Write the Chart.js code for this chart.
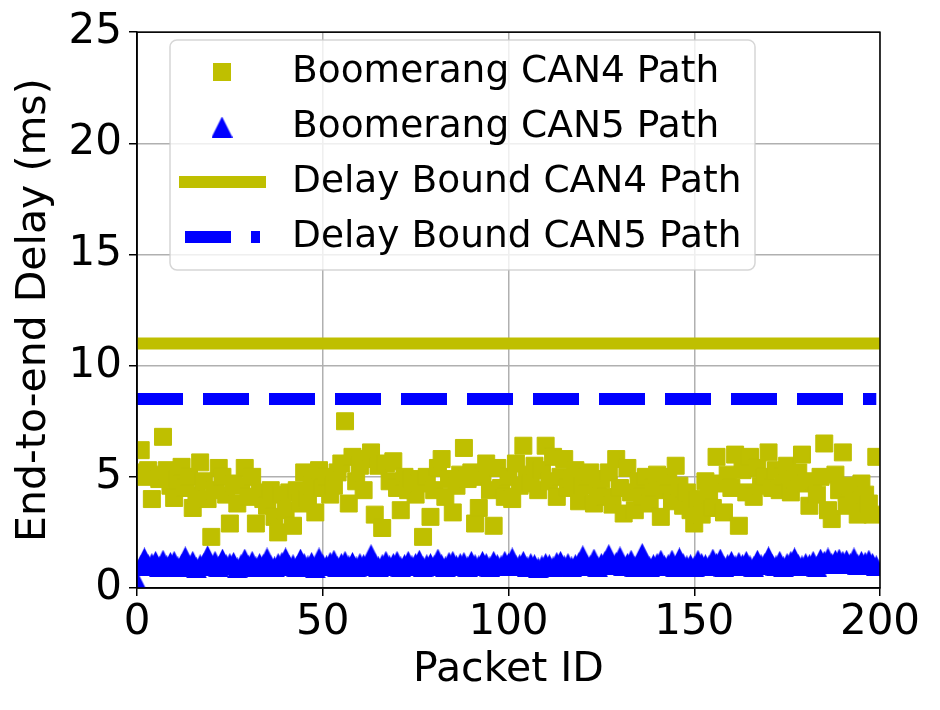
<!DOCTYPE html>
<html>
<head>
<meta charset="utf-8">
<script src="https://cdn.jsdelivr.net/npm/chart.js@4.4.0/dist/chart.umd.min.js"></script>
<style>
  html, body { margin: 0; padding: 0; background: #fff; }
  #wrap { width: 940px; height: 710px; }
</style>
</head>
<body>
<div id="wrap"><canvas id="myChart" width="940" height="710"></canvas></div>
<script>
// packet ids 0..199
let packetIds = Array.from({ length: 200 }, (_, i) => i);

// measured end-to-end delay (ms), CAN4 path
let can4Delay = [
  5.2, 6.2, 5.0, 5.3, 4.0, 5.1, 4.9, 6.8, 5.3, 4.6,
  4.05, 4.9, 5.45, 4.5, 5.0, 3.6, 4.2, 5.65, 4.8, 4.0,
  2.3, 4.4, 5.4, 5.0, 4.2, 2.9, 4.7, 3.8, 4.6, 5.4,
  4.1, 5.0, 2.9, 4.3, 4.0, 3.7, 4.4, 3.2, 2.5, 4.2,
  3.5, 4.3, 2.8, 4.4, 3.8, 5.2, 4.0, 4.6, 3.4, 5.3,
  4.5, 5.0, 4.2, 4.6, 5.2, 5.6, 7.5, 3.8, 5.9, 4.8,
  5.5, 4.4, 5.8, 6.1, 3.3, 5.5, 2.7, 5.6, 4.8, 5.7,
  4.5, 3.5, 5.0, 4.4, 4.9, 4.2, 4.7, 2.3, 5.0, 3.2,
  4.4, 5.4, 5.8, 4.1, 4.9, 3.4, 4.6, 5.1, 6.3, 4.9,
  5.2, 2.9, 3.6, 5.0, 5.6, 4.4, 2.8, 5.4, 4.5, 4.1,
  5.0, 4.0, 5.6, 4.6, 6.4, 5.1, 4.7, 5.5, 4.4, 5.3,
  6.4, 4.8, 5.9, 4.1, 5.0, 5.8, 4.5, 4.9, 5.3, 3.9,
  4.6, 5.0, 5.2, 3.8, 4.4, 4.9, 4.1, 5.2, 3.75, 5.8,
  4.5, 3.35, 5.4, 4.3, 3.5, 4.8, 4.1, 5.0, 3.8, 4.5,
  5.1, 3.2, 4.4, 5.0, 3.9, 5.5, 4.6, 3.7, 4.3, 3.5,
  2.9, 4.0, 3.3, 4.8, 4.2, 3.6, 5.9, 4.7, 3.4, 5.1,
  4.5, 6.0, 2.8, 5.3, 4.3, 5.9, 4.1, 5.4, 4.6, 5.0,
  6.1, 4.5, 5.3, 4.4, 5.0, 5.5, 4.3, 4.9, 5.2, 6.0,
  4.7, 3.7, 4.8, 4.2, 5.0, 6.5, 3.5, 3.1, 5.1, 4.4,
  6.1, 3.7, 4.6, 4.0, 3.3, 4.7, 4.2, 3.8, 3.3, 5.9
];

// measured end-to-end delay (ms), CAN5 path
let can5Delay = [
  0.3, 1.0, 1.35, 1.05, 1.1, 1.2, 0.95, 1.25, 1.0, 1.15,
  1.2, 0.95, 1.05, 1.4, 1.0, 1.2, 0.9, 1.05, 1.1, 1.45,
  1.0, 1.2, 0.95, 1.3, 1.05, 1.1, 1.15, 0.9, 1.05, 1.3,
  1.0, 1.2, 0.95, 1.1, 1.05, 1.35, 1.0, 0.95, 1.1, 1.15,
  1.35, 1.0, 1.05, 0.95, 1.3, 1.1, 1.0, 1.15, 0.9, 1.35,
  1.05, 1.0, 1.15, 1.25, 0.95, 1.1, 1.2, 1.0, 1.15, 0.95,
  1.1, 1.05, 1.0, 1.5, 1.1, 0.95, 1.05, 1.2, 1.0, 1.1,
  1.2, 0.95, 1.05, 1.2, 1.0, 1.1, 1.25, 0.95, 1.05, 1.1,
  1.0, 1.3, 1.05, 0.95, 1.15, 1.2, 1.0, 1.1, 1.15, 0.95,
  1.2, 1.05, 1.0, 1.2, 1.1, 0.95, 1.2, 1.05, 1.0, 1.2,
  1.1, 1.35, 1.0, 1.05, 1.2, 0.95, 1.1, 1.05, 0.9, 1.0,
  1.1, 1.05, 0.95, 1.15, 1.2, 1.0, 1.1, 0.95, 1.05, 1.15,
  1.45, 1.05, 1.0, 1.3, 0.95, 1.1, 1.2, 1.5, 1.05, 1.15,
  1.4, 1.0, 1.1, 1.25, 0.95, 1.05, 1.55, 1.1, 0.95, 1.05,
  1.1, 1.25, 1.0, 1.05, 1.25, 0.95, 1.35, 1.1, 1.0, 1.05,
  0.95, 1.25, 1.1, 1.05, 1.0, 1.3, 1.1, 1.3, 0.95, 1.05,
  1.2, 1.0, 1.15, 1.05, 1.2, 1.0, 0.95, 1.25, 1.05, 1.1,
  1.4, 1.05, 1.0, 1.2, 0.95, 1.1, 1.2, 1.35, 1.05, 1.0,
  1.1, 1.05, 1.2, 0.95, 1.3, 1.2, 1.35, 1.1, 1.25, 1.3,
  1.2, 1.25, 1.1, 1.35, 1.05, 1.2, 1.15, 1.25, 1.1, 1.0
];

// delay bounds (ms)
let boundX = [0, 199];
let boundCAN4 = 11;
let boundCAN5 = 8.5;

const FONT = "'DejaVu Sans', sans-serif";
const olive = "#bfbf00";
const blue = "#0000ff";

// triangle marker centred on its box (matplotlib style '^')
function makeTriangle(size, color) {
  let cv = document.createElement('canvas');
  cv.width = size;
  cv.height = size;
  let t = cv.getContext('2d');
  t.fillStyle = color;
  t.beginPath();
  t.moveTo(size / 2, 0);
  t.lineTo(size, size);
  t.lineTo(0, size);
  t.closePath();
  t.fill();
  return cv;
}
let triMarker = makeTriangle(21, blue);

// black box round the plot area
const framePlugin = {
  id: 'frame',
  afterDraw(chart) {
    let a = chart.chartArea;
    let c = chart.ctx;
    c.save();
    c.strokeStyle = '#000';
    c.lineWidth = 1.5;
    c.strokeRect(a.left, a.top, a.right - a.left, a.bottom - a.top);
    c.restore();
  }
};

// legend box in the upper left, like the original
const legendPlugin = {
  id: 'legendBox',
  afterDraw(chart) {
    let c = chart.ctx;
    c.save();
    c.beginPath();
    c.roundRect(170, 40, 585, 230, 7);
    c.fillStyle = 'rgba(255,255,255,0.8)';
    c.fill();
    c.strokeStyle = 'rgba(204,204,204,0.8)';
    c.lineWidth = 1.5;
    c.stroke();

    chart.data.datasets.forEach((ds, i) => {
      let y = 72 + i * 55;
      if (ds.type === 'line') {
        c.strokeStyle = ds.borderColor;
        c.lineWidth = ds.borderWidth;
        c.lineCap = ds.borderCapStyle || 'butt';
        c.setLineDash(ds.borderDash || []);
        c.beginPath();
        c.moveTo(185, y);
        c.lineTo(260, y);
        c.stroke();
        c.setLineDash([]);
      } else if (ds.pointStyle === 'rect') {
        c.fillStyle = ds.backgroundColor;
        c.fillRect(213, y - 9, 18, 18);
      } else {
        c.drawImage(ds.pointStyle, 222 - 10.5, y - 10.5);
      }
      c.fillStyle = '#000';
      c.font = "37.5px " + FONT;
      c.textBaseline = 'middle';
      c.textAlign = 'left';
      c.fillText(ds.label, 292, y);
    });
    c.restore();
  }
};

let ctx = document.getElementById("myChart").getContext("2d");

let myChart = new Chart(ctx, {
  type: 'scatter',
  data: {
    datasets: [
      {
        label: "Boomerang CAN4 Path",
        data: packetIds.map((id, i) => ({ x: id, y: can4Delay[i] })),
        pointStyle: 'rect',
        pointRadius: 12,
        backgroundColor: olive,
        borderColor: olive,
        borderWidth: 1,
        clip: 0
      },
      {
        label: "Boomerang CAN5 Path",
        data: packetIds.map((id, i) => ({ x: id, y: can5Delay[i] })),
        pointStyle: triMarker,
        pointRadius: 11,
        backgroundColor: blue,
        borderColor: blue,
        clip: 0
      },
      {
        label: "Delay Bound CAN4 Path",
        type: 'line',
        data: boundX.map(x => ({ x: x, y: boundCAN4 })),
        borderColor: olive,
        borderWidth: 12,
        borderCapStyle: 'square',
        pointRadius: 0,
        clip: 0
      },
      {
        label: "Delay Bound CAN5 Path",
        type: 'line',
        data: boundX.map(x => ({ x: x, y: boundCAN5 })),
        borderColor: blue,
        borderWidth: 12,
        borderDash: [46, 20],
        borderCapStyle: 'butt',
        pointRadius: 0,
        clip: 0
      }
    ]
  },
  options: {
    responsive: false,
    animation: false,
    layout: { padding: { left: 0, right: 60, top: 32, bottom: 0 } },
    plugins: {
      legend: { display: false },
      tooltip: { enabled: false }
    },
    scales: {
      x: {
        type: 'linear',
        min: 0,
        max: 200,
        z: 1,
        ticks: { stepSize: 50, color: '#000', padding: 2, font: { family: FONT, size: 42 } },
        grid: { color: '#b0b0b0', lineWidth: 1.5, tickColor: '#000', tickLength: 8, tickWidth: 1.5 },
        border: { color: '#000', width: 1.5 },
        title: { display: true, text: 'Packet ID', color: '#000', font: { family: FONT, size: 41 }, padding: { top: 0, bottom: 15 } },
        afterFit(scale) { scale.height = 122; }
      },
      y: {
        min: 0,
        max: 25,
        z: 1,
        ticks: { stepSize: 5, color: '#000', padding: 7, font: { family: FONT, size: 42 } },
        grid: { color: '#b0b0b0', lineWidth: 1.5, tickColor: '#000', tickLength: 8, tickWidth: 1.5 },
        border: { color: '#000', width: 1.5 },
        title: { display: true, text: 'End-to-end Delay (ms)', color: '#000', font: { family: FONT, size: 41 }, padding: { top: 10, bottom: 0 } },
        afterFit(scale) { scale.width = 137; }
      }
    }
  },
  plugins: [framePlugin, legendPlugin]
});
</script>
</body>
</html>
